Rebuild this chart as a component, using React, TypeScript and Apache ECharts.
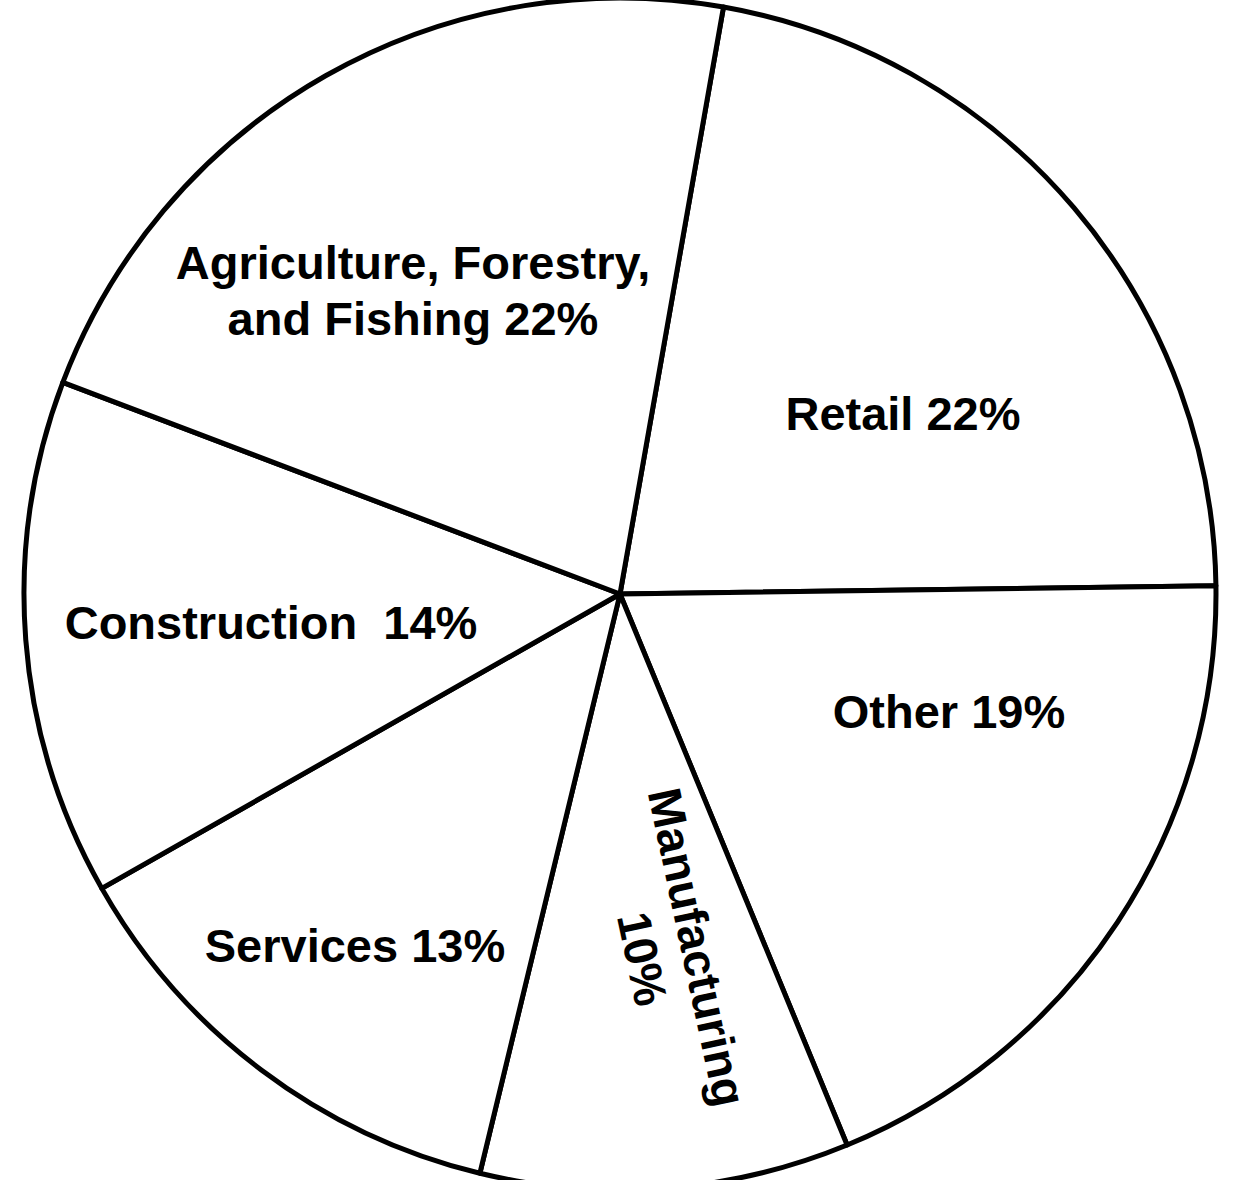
import React, { useEffect, useRef } from "react";
import * as echarts from "echarts";

// Slices in clockwise order starting from the top (Retail / Agriculture boundary)
const categories = [
  "Retail",
  "Other",
  "Manufacturing",
  "Services",
  "Construction",
  "Agriculture, Forestry,\nand Fishing",
];
const values = [22, 19, 10, 13, 14, 22];
const separators = [" ", " ", "\n", " ", "  ", " "];

// label anchor positions (px) and rotations (deg)
const labelPos: [number, number][] = [
  [903, 413],
  [949, 711],
  [670, 953],
  [355, 945],
  [271, 622],
  [413, 290],
];
const labelRotate = [0, 0, -78, 0, 0, 0];

export default function App() {
  const ref = useRef<HTMLDivElement>(null);
  useEffect(() => {
    if (!ref.current) return;
    const chart = echarts.init(ref.current, null, { renderer: "svg" });
    chart.setOption({
      animation: false,
      backgroundColor: "#ffffff",
      series: [
        {
          type: "pie",
          center: [620, 594],
          radius: 596,
          startAngle: 80,
          clockwise: true,
          avoidLabelOverlap: false,
          silent: true,
          emphasis: { disabled: true },
          itemStyle: {
            color: "#ffffff",
            borderColor: "#000000",
            borderWidth: 5,
          },
          labelLine: { show: false },
          label: {
            show: true,
            position: "inside",
            color: "#000000",
            fontFamily: "'Liberation Sans', Arial, Helvetica, sans-serif",
            fontWeight: "bold",
            fontSize: 47,
            lineHeight: 56,
            align: "center",
            formatter: (p: any) =>
              `${p.name}${separators[p.dataIndex]}${p.value}%`,
          },
          labelLayout: (p: any) => ({
            x: labelPos[p.dataIndex][0],
            y: labelPos[p.dataIndex][1],
            align: "center",
            verticalAlign: "middle",
          }),
          data: categories.map((name, i) => ({
            name,
            value: values[i],
            label: { rotate: labelRotate[i] },
          })),
        },
      ],
    });
    return () => chart.dispose();
  }, []);
  return (
    <div
      ref={ref}
      style={{ position: "fixed", left: 0, top: 0, width: 1238, height: 1180 }}
    />
  );
}
